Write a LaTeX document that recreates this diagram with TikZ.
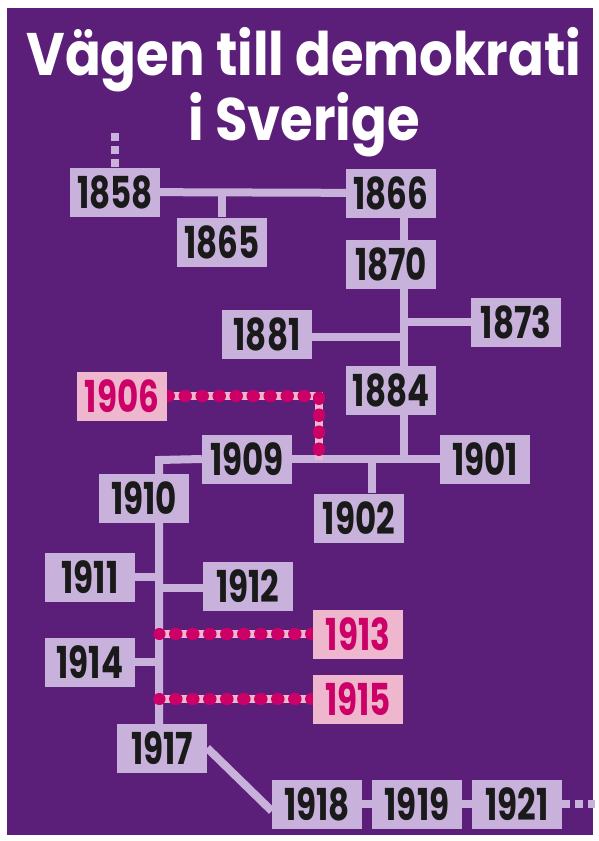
\documentclass[tikz,border=0pt]{standalone}
\usepackage{fontspec}
\newfontfamily\posterfont{Poppins}[FakeStretch=0.88]
\newfontfamily\yearfont{Poppins}[FakeStretch=0.74]
\usetikzlibrary{backgrounds}
\definecolor{bgpurple}{RGB}{92,31,121}
\definecolor{boxlilac}{RGB}{200,178,220}
\definecolor{boxpink}{RGB}{238,183,205}
\definecolor{magentadot}{RGB}{204,0,102}
\definecolor{yeartext}{RGB}{26,26,26}

\begin{document}
\begin{tikzpicture}[x=1pt,y=-1pt,
 yearbox/.style={fill=boxlilac,text=yeartext,minimum width=90pt,minimum height=49pt,inner sep=0pt,
  font=\yearfont\bfseries\fontsize{44}{44}\selectfont},
 newbox/.style={yearbox,fill=boxpink,text=magentadot},
 link/.style={draw=boxlilac,line width=8pt},
 fadelink/.style={link,dash pattern=on 8pt off 5pt},
 pinklink/.style={draw=boxpink,line width=8pt,
  postaction={draw=magentadot,line width=11.5pt,line cap=round,dash pattern=on 2pt off 15pt}}]
 \node[white,anchor=base,font=\posterfont\bfseries\fontsize{60}{60}\selectfont] (title) at (304,75) {Vägen till demokrati};
 \node[white,anchor=base,font=\posterfont\bfseries\fontsize{60}{60}\selectfont] (subtitle) at (304,140) {i Sverige};
 \foreach \yr/\x/\y in {1858/115/192,1865/222/242,1866/391/193,1870/391/264,1873/516/322,
   1881/267/334,1884/391/390,1909/247/459,1901/485/459,1902/359/518,1910/144/498,
   1911/90/577,1912/248/586,1914/90/662,1917/162/748,1918/317/804,1919/417/804,1921/517/804}
  \node[yearbox] (n\yr) at (\x,\y) {\yr};
 \foreach \yr/\x/\y in {1906/122/396,1913/358/634,1915/358/699}
  \node[newbox] (n\yr) at (\x,\y) {\yr};
 \coordinate (rtop) at (404,192);
 \coordinate (rbot) at (404,460);
 \coordinate (ltop) at (159,460);
 \coordinate (lbot) at (159,724);
 \coordinate (pinkend) at (319,460);
 \coordinate (pastend) at (115,130);
 \coordinate (nextend) at (595,804);
 \begin{scope}[on background layer]
  \fill[white] (0,0) rectangle (595,841);
  \fill[bgpurple] (7,8) rectangle (593,835);
  \draw[link] (n1858) -- (n1866);
  \draw[link] (n1865.north) -- (n1865.north |- n1858);
  \draw[link] (rtop) -- (rbot);
  \draw[link] (n1873.west) -- (n1873.west -| rtop);
  \draw[link] ([yshift=-3pt]n1881.east) -- ([yshift=-3pt]n1881.east -| rtop);
  \draw[link] (n1909.east) -- (n1901.west);
  \draw[link] ([xshift=13pt]n1902.north) -- ([xshift=13pt]n1902.north |- rbot);
  \draw[link] (n1909.west) -- (ltop) -- (lbot);
  \draw[link] (n1911.east) -- (n1911.east -| ltop);
  \draw[link] ([yshift=-2pt]n1912.west) -- ([yshift=-2pt]n1912.west -| ltop);
  \draw[link] (n1914.east) -- (n1914.east -| ltop);
  \draw[link] (n1917.east) -- ([yshift=-7pt]n1918.west);
  \draw[link] (n1918) -- (n1919) -- (n1921);
  \draw[fadelink] (n1858.north) -- (pastend);
  \draw[fadelink] (n1921.east) -- (nextend);
  \draw[pinklink] (n1906.east) -| (pinkend);
  \draw[pinklink] (n1913.west) -- (n1913.west -| lbot);
  \draw[pinklink] (n1915.west) -- (n1915.west -| lbot);
 \end{scope}
\end{tikzpicture}
\end{document}
